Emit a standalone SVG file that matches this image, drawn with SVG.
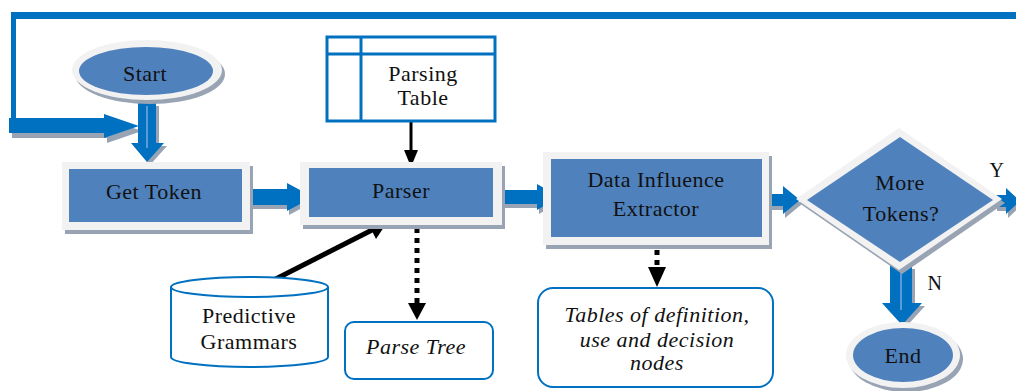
<svg xmlns="http://www.w3.org/2000/svg" width="1016" height="391" viewBox="0 0 1016 391">
<style>
.t{font-family:'Liberation Serif','Times New Roman','DejaVu Serif',serif;font-size:22px;letter-spacing:0.5px;fill:#111;text-anchor:middle}
.i{font-style:italic}
.sh{fill:#98a3b4}
.fr{fill:#f2f2f2}
.bl{fill:#4f81bd}
.ba{fill:#0070c0}
.ol{fill:#fff;stroke:#0070c0;stroke-width:2}
.hl{stroke:#5b9bd5;stroke-width:2}
</style>
<rect width="1016" height="391" fill="#fff"/>

<g id="connectors">
  <path d="M13.5,15.5 H1016" stroke="#0070c0" stroke-width="7" fill="none"/>
  <path d="M13.5,12 V122" stroke="#0070c0" stroke-width="5" fill="none"/>
  <polygon class="sh" transform="translate(3,5)" points="9,118 104,118 104,114 139,126 104,138 104,133 9,133"/>
  <polygon class="ba" points="9,118 104,118 104,114 139,126 104,138 104,133 9,133"/>
  <polygon class="sh" transform="translate(3,3)" points="138,103 156,103 156,143 164,143 147,162 131,143 138,143"/>
  <polygon class="ba" points="138,103 156,103 156,143 164,143 147,162 131,143 138,143"/>
  <line class="hl" x1="147" y1="106" x2="147" y2="148"/>
  <polygon class="sh" transform="translate(2,4)" points="250,189 287,189 287,183 313,197 287,211 287,205 250,205"/>
  <polygon class="ba" points="250,189 287,189 287,183 313,197 287,211 287,205 250,205"/>
  <polygon class="sh" transform="translate(2,4)" points="497,190 537,190 537,184 560,197 537,210 537,204 497,204"/>
  <polygon class="ba" points="497,190 537,190 537,184 560,197 537,210 537,204 497,204"/>
  <polygon class="sh" transform="translate(2,4)" points="762,194 783,194 783,186 800,200 783,214 783,206 762,206"/>
  <polygon class="ba" points="762,194 783,194 783,186 800,200 783,214 783,206 762,206"/>
  <polygon class="sh" transform="translate(2,4)" points="995,195 1006,195 1006,188 1020,201 1006,214 1006,207 995,207"/>
  <polygon class="ba" points="995,195 1006,195 1006,188 1020,201 1006,214 1006,207 995,207"/>
  <polygon class="sh" transform="translate(3,3)" points="890,266 912,266 912,303 922,303 902,325 882,303 890,303"/>
  <polygon class="ba" points="890,266 912,266 912,303 922,303 902,325 882,303 890,303"/>
  <line class="hl" x1="901" y1="268" x2="901" y2="310"/>
  <line x1="411" y1="122" x2="411" y2="152" stroke="#000" stroke-width="3"/>
  <polygon points="404,150 418,150 411,167" fill="#000"/>
  <line x1="260" y1="287" x2="374" y2="229" stroke="#000" stroke-width="5"/>
  <polygon points="366,219 388,221 376,239" fill="#000"/>
  <line x1="417" y1="228" x2="417" y2="304" stroke="#000" stroke-width="5" stroke-dasharray="5 5"/>
  <polygon points="408,303 426,303 417,320" fill="#000"/>
  <line x1="657" y1="240" x2="657" y2="268" stroke="#000" stroke-width="5" stroke-dasharray="5 5"/>
  <polygon points="648,267 666,267 657,287" fill="#000"/>
</g>

<g id="start">
  <ellipse class="sh" cx="150" cy="74" rx="75" ry="30"/>
  <ellipse class="fr" cx="147" cy="70" rx="75" ry="30"/>
  <ellipse class="bl" cx="146" cy="71" rx="67" ry="24"/>
  <text class="t" x="145" y="81">Start</text>
</g>

<g id="get-token">
  <rect class="sh" x="65" y="166" width="188" height="68"/>
  <rect class="fr" x="62" y="162" width="188" height="68"/>
  <rect class="bl" x="69" y="169" width="173" height="53"/>
  <text class="t" x="154" y="199">Get Token</text>
</g>

<g id="parsing-table">
  <rect x="327" y="37" width="168" height="84" fill="#fff" stroke="#0070c0" stroke-width="3"/>
  <line x1="327" y1="54" x2="495" y2="54" stroke="#0070c0" stroke-width="3"/>
  <line x1="361" y1="37" x2="361" y2="121" stroke="#0070c0" stroke-width="3"/>
  <text class="t" x="423" y="81">Parsing</text>
  <text class="t" x="423" y="105">Table</text>
</g>

<g id="parser">
  <rect class="sh" x="303" y="166" width="202" height="63"/>
  <rect class="fr" x="300" y="162" width="202" height="63"/>
  <rect class="bl" x="309" y="168" width="184" height="49"/>
  <text class="t" x="401" y="198">Parser</text>
</g>

<g id="data-influence-extractor">
  <rect class="sh" x="546" y="156" width="226" height="93"/>
  <rect class="fr" x="543" y="152" width="226" height="93"/>
  <rect class="bl" x="551" y="159" width="211" height="78"/>
  <text class="t" x="656" y="187">Data Influence</text>
  <text class="t" x="656" y="216">Extractor</text>
</g>

<g id="more-tokens">
  <polygon class="sh" transform="translate(3,4)" points="899,128 1002,199 899,270 796,199"/>
  <polygon class="fr" points="899,128 1002,199 899,270 796,199"/>
  <polygon class="bl" points="900,137 993,200 900,262 807,200"/>
  <text class="t" x="900" y="190">More</text>
  <text class="t" x="901" y="221">Tokens?</text>
  <text class="t" x="997" y="177" style="font-size:20px">Y</text>
  <text class="t" x="935" y="290" style="font-size:20px">N</text>
</g>

<g id="end">
  <ellipse class="sh" cx="906" cy="359" rx="57" ry="33"/>
  <ellipse class="fr" cx="903" cy="355" rx="57" ry="33"/>
  <ellipse class="bl" cx="903" cy="355" rx="50" ry="27"/>
  <text class="t" x="903" y="363">End</text>
</g>

<g id="predictive-grammars">
  <path class="ol" d="M171,287 V357 A78.5,10 0 0 0 328,357 V287"/>
  <ellipse class="ol" cx="249.5" cy="287" rx="78.5" ry="10"/>
  <text class="t" x="249" y="323">Predictive</text>
  <text class="t" x="249" y="349">Grammars</text>
</g>

<g id="parse-tree">
  <rect class="ol" x="345" y="322" width="148" height="57" rx="9"/>
  <text class="t i" x="416" y="354">Parse Tree</text>
</g>

<g id="tables">
  <rect class="ol" x="538" y="288" width="235" height="99" rx="15"/>
  <text class="t i" x="657" y="322">Tables of definition,</text>
  <text class="t i" x="657" y="347">use and decision</text>
  <text class="t i" x="657" y="370">nodes</text>
</g>
</svg>
